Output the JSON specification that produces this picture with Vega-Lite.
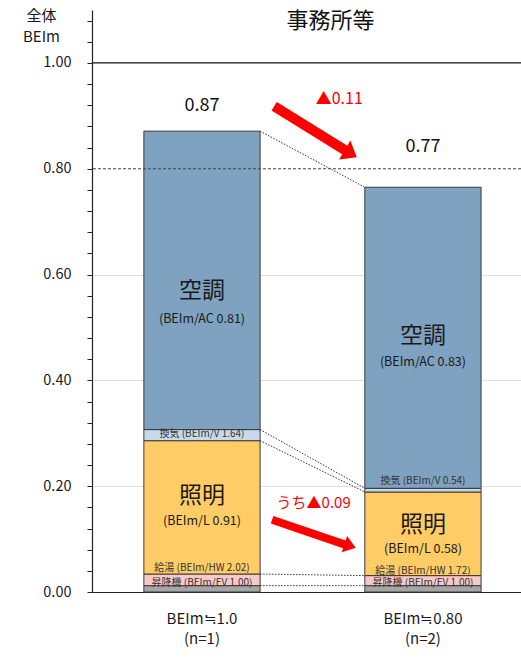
{
  "$schema": "https://vega.github.io/schema/vega-lite/v6.json",
  "width": 429,
  "height": 582,
  "autosize": {"type": "none"},
  "padding": {"left": 92, "top": 10, "right": 0, "bottom": 69},
  "background": "white",
  "config": {
    "view": {"stroke": null},
    "font": "Noto Sans CJK JP",
    "text": {"font": "Noto Sans CJK JP"},
    "axis": {"labelFont": "Noto Sans CJK JP", "titleFont": "Noto Sans CJK JP"},
    "title": {"font": "Noto Sans CJK JP"}
  },
  "title": {
    "text": "事務所等",
    "fontSize": 22,
    "fontWeight": "normal",
    "color": "#111111",
    "anchor": "middle",
    "dx": 24,
    "offset": -25
  },
  "datasets": {
    "bars": [
      {"group": "BEIm≒1.0|(n=1)", "part": "昇降機", "value": 0.012, "ord": 1},
      {"group": "BEIm≒1.0|(n=1)", "part": "給湯", "value": 0.022, "ord": 2},
      {"group": "BEIm≒1.0|(n=1)", "part": "照明", "value": 0.252, "ord": 3},
      {"group": "BEIm≒1.0|(n=1)", "part": "換気", "value": 0.021, "ord": 4},
      {"group": "BEIm≒1.0|(n=1)", "part": "空調", "value": 0.564, "ord": 5},
      {"group": "BEIm≒0.80|(n=2)", "part": "昇降機", "value": 0.012, "ord": 1},
      {"group": "BEIm≒0.80|(n=2)", "part": "給湯", "value": 0.019, "ord": 2},
      {"group": "BEIm≒0.80|(n=2)", "part": "照明", "value": 0.158, "ord": 3},
      {"group": "BEIm≒0.80|(n=2)", "part": "換気", "value": 0.007, "ord": 4},
      {"group": "BEIm≒0.80|(n=2)", "part": "空調", "value": 0.569, "ord": 5}
    ],
    "links": [
      {"from": "BEIm≒1.0|(n=1)", "to": "BEIm≒0.80|(n=2)", "a": 0.871, "b": 0.765},
      {"from": "BEIm≒1.0|(n=1)", "to": "BEIm≒0.80|(n=2)", "a": 0.307, "b": 0.196},
      {"from": "BEIm≒1.0|(n=1)", "to": "BEIm≒0.80|(n=2)", "a": 0.286, "b": 0.189},
      {"from": "BEIm≒1.0|(n=1)", "to": "BEIm≒0.80|(n=2)", "a": 0.034, "b": 0.031},
      {"from": "BEIm≒1.0|(n=1)", "to": "BEIm≒0.80|(n=2)", "a": 0.012, "b": 0.012}
    ],
    "labels": [
      {"group": "BEIm≒1.0|(n=1)", "kind": "total", "y": 0.918, "text": "0.87"},
      {"group": "BEIm≒0.80|(n=2)", "kind": "total", "y": 0.841, "text": "0.77"},
      {"group": "BEIm≒1.0|(n=1)", "kind": "big", "y": 0.569, "text": "空調"},
      {"group": "BEIm≒1.0|(n=1)", "kind": "sub", "y": 0.5169, "text": "(BEIm/AC 0.81)"},
      {"group": "BEIm≒0.80|(n=2)", "kind": "big", "y": 0.4839, "text": "空調"},
      {"group": "BEIm≒0.80|(n=2)", "kind": "sub", "y": 0.4348, "text": "(BEIm/AC 0.83)"},
      {"group": "BEIm≒1.0|(n=1)", "kind": "big", "y": 0.1823, "text": "照明"},
      {"group": "BEIm≒1.0|(n=1)", "kind": "sub", "y": 0.1346, "text": "(BEIm/L 0.91)"},
      {"group": "BEIm≒0.80|(n=2)", "kind": "big", "y": 0.1269, "text": "照明"},
      {"group": "BEIm≒0.80|(n=2)", "kind": "sub", "y": 0.0814, "text": "(BEIm/L 0.58)"},
      {"group": "BEIm≒1.0|(n=1)", "kind": "small", "y": 0.2978, "text": "換気 (BEIm/V 1.64)"},
      {"group": "BEIm≒0.80|(n=2)", "kind": "small", "y": 0.21, "text": "換気 (BEIm/V 0.54)"},
      {"group": "BEIm≒1.0|(n=1)", "kind": "small", "y": 0.045, "text": "給湯 (BEIm/HW 2.02)"},
      {"group": "BEIm≒0.80|(n=2)", "kind": "small", "y": 0.039, "text": "給湯 (BEIm/HW 1.72)"},
      {"group": "BEIm≒1.0|(n=1)", "kind": "small", "y": 0.0175, "text": "昇降機 (BEIm/EV 1.00)"},
      {"group": "BEIm≒0.80|(n=2)", "kind": "small", "y": 0.0168, "text": "昇降機 (BEIm/EV 1.00)"}
    ]
  },
  "layer": [
    {
      "data": {"name": "bars"},
      "mark": {"type": "bar", "stroke": "#3a3a3a", "strokeWidth": 1},
      "encoding": {
        "x": {
          "field": "group",
          "type": "nominal",
          "sort": null,
          "title": null,
          "scale": {
            "domain": ["BEIm≒1.0|(n=1)", "BEIm≒0.80|(n=2)"],
            "paddingInner": 0.474,
            "paddingOuter": 0.2077,
            "align": 0.565
          },
          "axis": {
            "labelExpr": "split(datum.label, '|')",
            "labelAngle": 0,
            "labelFontSize": 15,
            "labelLineHeight": 20,
            "labelColor": "#1a1a1a",
            "labelPadding": 19,
            "ticks": false,
            "tickSize": 0,
            "domainColor": "#222222",
            "domainWidth": 1.2,
            "grid": false
          }
        },
        "y": {
          "field": "value",
          "type": "quantitative",
          "stack": "zero",
          "scale": {"domain": [0, 1.1], "nice": false, "zero": true},
          "axis": {
            "values": [0, 0.04, 0.08, 0.12, 0.16, 0.2, 0.24, 0.28, 0.32, 0.36, 0.4, 0.44, 0.48, 0.52, 0.56, 0.6, 0.64, 0.68, 0.72, 0.76, 0.8, 0.84, 0.88, 0.92, 0.96, 1, 1.04, 1.08],
            "tickCount": 60,
            "labelExpr": "indexof(['0.00','0.20','0.40','0.60','0.80','1.00'], format(datum.value, '.2f')) >= 0 ? format(datum.value, '.2f') : ''",
            "labelOverlap": false,
            "labelSeparation": 0,
            "labelFontSize": 14.5,
            "labelColor": "#1a1a1a",
            "labelPadding": 16,
            "tickSize": 5,
            "tickColor": "#222222",
            "domainColor": "#222222",
            "domainWidth": 1.2,
            "grid": true,
            "gridColor": {
              "condition": {
                "test": "indexof(['0.20','0.40','0.60'], format(datum.value, '.2f')) >= 0",
                "value": "#dedede"
              },
              "value": "transparent"
            },
            "title": ["全体", "BEIm"],
            "titleAngle": 0,
            "titleAlign": "center",
            "titleBaseline": "alphabetic",
            "titleX": -51,
            "titleY": 10,
            "titleFontSize": 15,
            "titleFontWeight": "normal",
            "titleColor": "#1a1a1a",
            "titleLineHeight": 21
          }
        },
        "color": {
          "field": "part",
          "type": "nominal",
          "legend": null,
          "scale": {
            "domain": ["昇降機", "給湯", "照明", "換気", "空調"],
            "range": ["#a6a6a6", "#f9c8c8", "#ffcc66", "#c6daeb", "#7fa2c1"]
          }
        },
        "order": {"field": "ord", "type": "quantitative"}
      }
    },
    {
      "data": {"values": [{}]},
      "mark": {"type": "rule", "color": "#111111", "strokeWidth": 1.2},
      "encoding": {"y": {"datum": 1}}
    },
    {
      "data": {"values": [{}]},
      "mark": {"type": "rule", "color": "#444444", "strokeWidth": 1.2, "strokeDash": [3, 2]},
      "encoding": {"y": {"datum": 0.8}}
    },
    {
      "data": {"name": "links"},
      "mark": {"type": "rule", "color": "#333333", "strokeWidth": 1, "strokeDash": [1.5, 1.5]},
      "encoding": {
        "x": {"field": "from", "type": "nominal", "bandPosition": 1},
        "x2": {"field": "to", "bandPosition": 0},
        "y": {"field": "a", "type": "quantitative"},
        "y2": {"field": "b"}
      }
    },
    {
      "data": {"name": "labels"},
      "transform": [{"filter": "datum.kind == 'total'"}],
      "mark": {"type": "text", "fontSize": 18, "color": "#111111", "baseline": "middle", "align": "center"},
      "encoding": {
        "x": {"field": "group", "type": "nominal", "bandPosition": 0.5},
        "y": {"field": "y", "type": "quantitative"},
        "text": {"field": "text"}
      }
    },
    {
      "data": {"name": "labels"},
      "transform": [{"filter": "datum.kind == 'big'"}],
      "mark": {"type": "text", "fontSize": 23, "color": "#1a1a1a", "baseline": "middle", "align": "center"},
      "encoding": {
        "x": {"field": "group", "type": "nominal", "bandPosition": 0.5},
        "y": {"field": "y", "type": "quantitative"},
        "text": {"field": "text"}
      }
    },
    {
      "data": {"name": "labels"},
      "transform": [{"filter": "datum.kind == 'sub'"}],
      "mark": {"type": "text", "fontSize": 12.5, "color": "#1a1a1a", "baseline": "middle", "align": "center"},
      "encoding": {
        "x": {"field": "group", "type": "nominal", "bandPosition": 0.5},
        "y": {"field": "y", "type": "quantitative"},
        "text": {"field": "text"}
      }
    },
    {
      "data": {"name": "labels"},
      "transform": [{"filter": "datum.kind == 'small'"}],
      "mark": {"type": "text", "fontSize": 10, "color": "#333333", "baseline": "middle", "align": "center"},
      "encoding": {
        "x": {"field": "group", "type": "nominal", "bandPosition": 0.5},
        "y": {"field": "y", "type": "quantitative"},
        "text": {"field": "text"}
      }
    },
    {
      "data": {"values": [{"from": "BEIm≒1.0|(n=1)", "to": "BEIm≒0.80|(n=2)", "y1": 0.918, "y2": 0.833}]},
      "mark": {"type": "rule", "color": "#ff0000", "strokeWidth": 10},
      "encoding": {
        "x": {"field": "from", "type": "nominal", "bandPosition": 1.121},
        "x2": {"field": "to", "bandPosition": -0.155},
        "y": {"field": "y1", "type": "quantitative"},
        "y2": {"field": "y2"}
      }
    },
    {
      "data": {"values": [{"to": "BEIm≒0.80|(n=2)", "y": 0.8287}]},
      "mark": {"type": "point", "shape": "M-1,-1.57L1,0L-1,1.57Z", "size": 196, "angle": 30.8, "filled": true, "color": "#ff0000", "opacity": 1, "strokeWidth": 0},
      "encoding": {
        "x": {"field": "to", "type": "nominal", "bandPosition": -0.121},
        "y": {"field": "y", "type": "quantitative"}
      }
    },
    {
      "data": {"values": [{"from": "BEIm≒1.0|(n=1)", "to": "BEIm≒0.80|(n=2)", "y1": 0.1364, "y2": 0.0891}]},
      "mark": {"type": "rule", "color": "#ff0000", "strokeWidth": 8},
      "encoding": {
        "x": {"field": "from", "type": "nominal", "bandPosition": 1.103},
        "x2": {"field": "to", "bandPosition": -0.164},
        "y": {"field": "y1", "type": "quantitative"},
        "y2": {"field": "y2"}
      }
    },
    {
      "data": {"values": [{"to": "BEIm≒0.80|(n=2)", "y": 0.0871}]},
      "mark": {"type": "point", "shape": "M-1,-1.42L1,0L-1,1.42Z", "size": 144, "angle": 18.2, "filled": true, "color": "#ff0000", "opacity": 1, "strokeWidth": 0},
      "encoding": {
        "x": {"field": "to", "type": "nominal", "bandPosition": -0.127},
        "y": {"field": "y", "type": "quantitative"}
      }
    },
    {
      "data": {"values": [{"to": "BEIm≒0.80|(n=2)", "y": 0.9315, "text": "▲0.11"}]},
      "mark": {"type": "text", "fontSize": 16, "color": "#ff0000", "baseline": "middle", "align": "center"},
      "encoding": {
        "x": {"field": "to", "type": "nominal", "bandPosition": -0.22},
        "y": {"field": "y", "type": "quantitative"},
        "text": {"field": "text"}
      }
    },
    {
      "data": {"values": [{"from": "BEIm≒1.0|(n=1)", "y": 0.1676, "text": "うち▲0.09"}]},
      "mark": {"type": "text", "fontSize": 15, "color": "#ff0000", "baseline": "middle", "align": "center"},
      "encoding": {
        "x": {"field": "from", "type": "nominal", "bandPosition": 1.461},
        "y": {"field": "y", "type": "quantitative"},
        "text": {"field": "text"}
      }
    }
  ]
}
